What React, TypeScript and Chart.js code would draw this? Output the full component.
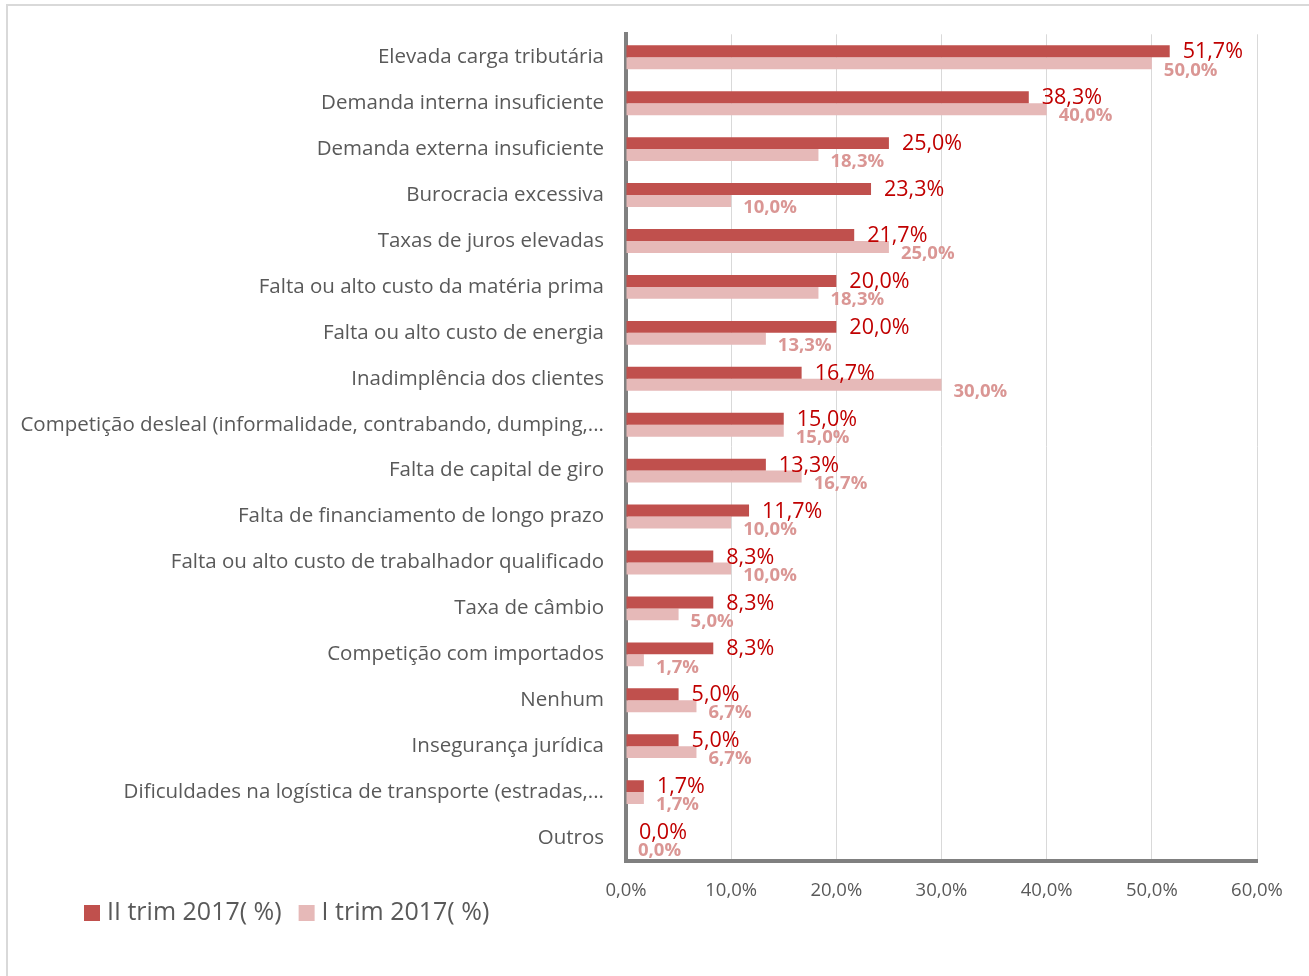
import React, { useEffect, useRef } from "react";
import { Chart, registerables } from "chart.js";

Chart.register(...registerables);

const categories = [
  "Elevada carga tributária",
  "Demanda interna insuficiente",
  "Demanda externa insuficiente",
  "Burocracia excessiva",
  "Taxas de juros elevadas",
  "Falta ou alto custo da matéria prima",
  "Falta ou alto custo de energia",
  "Inadimplência dos clientes",
  "Competição desleal (informalidade, contrabando, dumping,...",
  "Falta de capital de giro",
  "Falta de financiamento de longo prazo",
  "Falta ou alto custo de trabalhador qualificado",
  "Taxa de câmbio",
  "Competição com importados",
  "Nenhum",
  "Insegurança jurídica",
  "Dificuldades na logística de transporte (estradas,...",
  "Outros",
];

const seriesII = [51.7, 38.3, 25.0, 23.3, 21.7, 20.0, 20.0, 16.7, 15.0, 13.3, 11.7, 8.3, 8.3, 8.3, 5.0, 5.0, 1.7, 0.0];
const seriesI = [50.0, 40.0, 18.3, 10.0, 25.0, 18.3, 13.3, 30.0, 15.0, 16.7, 10.0, 10.0, 5.0, 1.7, 6.7, 6.7, 1.7, 0.0];
const seriesNames = ["II trim 2017( %)", "I trim 2017( %)"];
const seriesColors = ["#C0504D", "#E6B9B8"];
const xMin = 0;
const xMax = 60;
const xStep = 10;

const FONT = "'Open Sans', sans-serif";
const fmt = (v: number) => v.toFixed(1).replace(".", ",") + "%";

const labelPlugin = {
  id: "barLabels",
  afterDatasetsDraw(chart: any) {
    const ctx = chart.ctx;
    chart.data.datasets.forEach((ds: any, di: number) => {
      const meta = chart.getDatasetMeta(di);
      meta.data.forEach((bar: any, i: number) => {
        const v = ds.data[i] as number;
        ctx.save();
        ctx.textAlign = "left";
        ctx.textBaseline = "middle";
        if (di === 0) {
          ctx.font = `21.5px ${FONT}`;
          ctx.fillStyle = "#C00000";
          ctx.fillText(fmt(v), bar.x + 13, bar.y + 1);
        } else {
          ctx.font = `bold 18.5px ${FONT}`;
          ctx.fillStyle = "#DA9694";
          ctx.fillText(fmt(v), bar.x + 12, bar.y + 7);
        }
        ctx.restore();
      });
    });
  },
};

const legendPlugin = {
  id: "customLegend",
  afterDraw(chart: any) {
    const ctx = chart.ctx;
    ctx.save();
    ctx.font = `25px ${FONT}`;
    ctx.textAlign = "left";
    ctx.textBaseline = "middle";
    let x = 84;
    const y = 913;
    chart.data.datasets.forEach((ds: any) => {
      ctx.fillStyle = ds.backgroundColor;
      ctx.fillRect(x, y - 8, 16, 16);
      ctx.fillStyle = "#595959";
      const tx = x + 23;
      ctx.fillText(ds.label, tx, y);
      x = tx + ctx.measureText(ds.label).width + 17;
    });
    ctx.restore();
  },
};

export default function App() {
  const ref = useRef<HTMLCanvasElement | null>(null);

  useEffect(() => {
    if (!ref.current) return;
    const chart = new Chart(ref.current, {
      type: "bar",
      data: {
        labels: categories,
        datasets: [
          {
            label: seriesNames[0],
            data: seriesII,
            backgroundColor: seriesColors[0],
            borderWidth: 0,
            categoryPercentage: 0.52,
            barPercentage: 1,
          },
          {
            label: seriesNames[1],
            data: seriesI,
            backgroundColor: seriesColors[1],
            borderWidth: 0,
            categoryPercentage: 0.52,
            barPercentage: 1,
          },
        ],
      },
      options: {
        indexAxis: "y",
        responsive: false,
        animation: false,
        layout: { padding: { left: 0, top: 31, right: 52, bottom: 70 } },
        plugins: {
          legend: { display: false },
          tooltip: { enabled: false },
        },
        scales: {
          x: {
            min: xMin,
            max: xMax,
            ticks: {
              stepSize: xStep,
              callback: (v: any) => fmt(Number(v)),
              color: "#595959",
              font: { size: 18.5, family: FONT },
              padding: 19,
            },
            grid: { color: "#D9D9D9", lineWidth: 1, drawTicks: false },
            border: { display: true, width: 4, color: "#808080" },
            afterFit: (scale: any) => {
              scale.height = 45;
            },
          },
          y: {
            ticks: {
              color: "#595959",
              font: { size: 20.5, family: FONT },
              padding: 22,
              autoSkip: false,
            },
            grid: { display: false, drawTicks: false },
            border: { display: true, width: 4, color: "#808080" },
            afterFit: (scale: any) => {
              scale.width = 626;
            },
          },
        },
      },
      plugins: [labelPlugin, legendPlugin],
    });
    return () => chart.destroy();
  }, []);

  return (
    <div style={{ position: "absolute", left: 0, top: 0, width: 1309, height: 976, overflow: "hidden", background: "#fff" }}>
      <div
        style={{
          position: "absolute",
          left: 6,
          top: 4,
          width: 1400,
          height: 1100,
          borderTop: "2px solid #D9D9D9",
          borderLeft: "2px solid #D9D9D9",
        }}
      />
      <canvas ref={ref} width={1309} height={976} style={{ position: "absolute", left: 0, top: 0 }} />
    </div>
  );
}
